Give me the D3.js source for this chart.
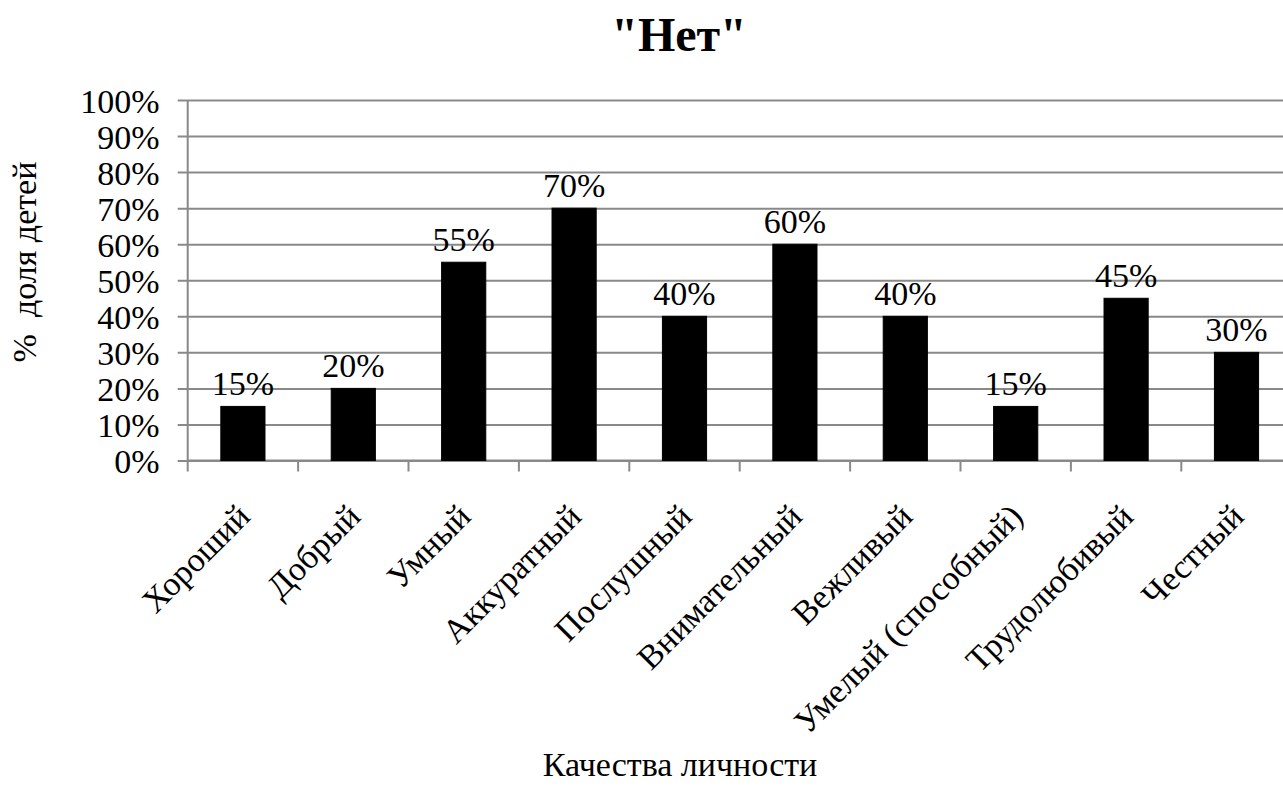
<!DOCTYPE html>
<html>
<head>
<meta charset="utf-8">
<script src="https://cdn.jsdelivr.net/npm/d3@7"></script>
</head>
<body style="margin:0">
<svg id="chart" width="1283" height="796"></svg>
<script>
// Доля детей, ответивших "Нет", по качествам личности
const categories = ["Хороший", "Добрый", "Умный", "Аккуратный", "Послушный",
  "Внимательный", "Вежливый", "Умелый (способный)", "Трудолюбивый", "Честный"];
const values = [0.15, 0.20, 0.55, 0.70, 0.40, 0.60, 0.40, 0.15, 0.45, 0.30];
const yTicks = [0, 0.1, 0.2, 0.3, 0.4, 0.5, 0.6, 0.7, 0.8, 0.9, 1.0];

const chartTitle = '"Нет"';
const xTitle = "Качества личности";
const yTitle = "%  доля детей";

const fontFamilies = ["Liberation Serif", "Times New Roman"];
const fontStack = fontFamilies.map(f => `"${f}"`).join(", ");

const svg = d3.select("#chart");
const gridColor = "#898989";

// общий стиль надписей
function serif(sel, size, weight) {
  return sel
    .attr("font-size", size)
    .attr("font-weight", weight || "normal")
    .style("font-family", fontStack);
}

const plot = { left: 187.7, right: 1291.7, top: 100, bottom: 460.5 };

const x = d3.scaleBand()
  .domain(categories)
  .range([plot.left, plot.right])
  .paddingInner(0.6)
  .paddingOuter(0.3);

const y = d3.scaleLinear().domain([0, 1]).range([plot.bottom, plot.top]);
const pct = d3.format(".0%");

// горизонтальная сетка и деления оси Y
const yAxis = d3.axisLeft(y)
  .tickValues(yTicks)
  .tickFormat(pct)
  .tickSize(-(plot.right - plot.left))
  .tickPadding(28);
const gy = svg.append("g")
  .attr("transform", `translate(${plot.left},0)`)
  .call(yAxis);
gy.attr("font-family", null).attr("font-size", null);
gy.select(".domain").attr("stroke", gridColor).attr("stroke-width", 2)
  .attr("d", `M0,${plot.top}V${plot.bottom}`);
gy.selectAll(".tick line")
  .attr("stroke", gridColor).attr("stroke-width", 2)
  .attr("x1", -10);
serif(gy.selectAll(".tick text"), 34)
  .attr("fill", "#000")
  .attr("dy", "0.36em");

// ось X с делениями между категориями
const step = x.step();
const boundaries = d3.range(categories.length + 1).map(i => x(categories[0]) - x.bandwidth() * 0.75 + i * step);
svg.append("line")
  .attr("x1", plot.left).attr("x2", plot.right)
  .attr("y1", plot.bottom).attr("y2", plot.bottom)
  .attr("stroke", gridColor).attr("stroke-width", 2);
svg.append("g").selectAll("line")
  .data(boundaries)
  .join("line")
  .attr("x1", d => d).attr("x2", d => d)
  .attr("y1", plot.bottom).attr("y2", plot.bottom + 11)
  .attr("stroke", gridColor).attr("stroke-width", 2);

// столбцы
svg.append("g").selectAll("rect")
  .data(values)
  .join("rect")
  .attr("x", (d, i) => x(categories[i]))
  .attr("width", x.bandwidth())
  .attr("y", d => y(d))
  .attr("height", d => y(0) - y(d))
  .attr("fill", "#000")
  .attr("stroke", "#000")
  .attr("stroke-width", 1);

// подписи значений
serif(svg.append("g").selectAll("text")
  .data(values)
  .join("text"), 34)
  .attr("x", (d, i) => x(categories[i]) + x.bandwidth() / 2)
  .attr("y", d => y(d) - 11)
  .attr("text-anchor", "middle")
  .text(d => pct(d));

// подписи категорий под углом 45°
serif(svg.append("g").selectAll("text")
  .data(categories)
  .join("text"), 34)
  .attr("transform", d => `translate(${x(d) + x.bandwidth() / 2 + 9},${plot.bottom + 58}) rotate(-45)`)
  .attr("text-anchor", "end")
  .text(d => d);

// заголовки
serif(svg.append("text"), 48, "bold")
  .attr("x", 679).attr("y", 51)
  .attr("text-anchor", "middle")
  .text(chartTitle);

serif(svg.append("text"), 34)
  .attr("x", 680).attr("y", 776)
  .attr("text-anchor", "middle")
  .text(xTitle);

serif(svg.append("text"), 34)
  .attr("transform", "translate(36,262) rotate(-90)")
  .attr("text-anchor", "middle")
  .style("white-space", "pre")
  .text(yTitle);
</script>
</body>
</html>
